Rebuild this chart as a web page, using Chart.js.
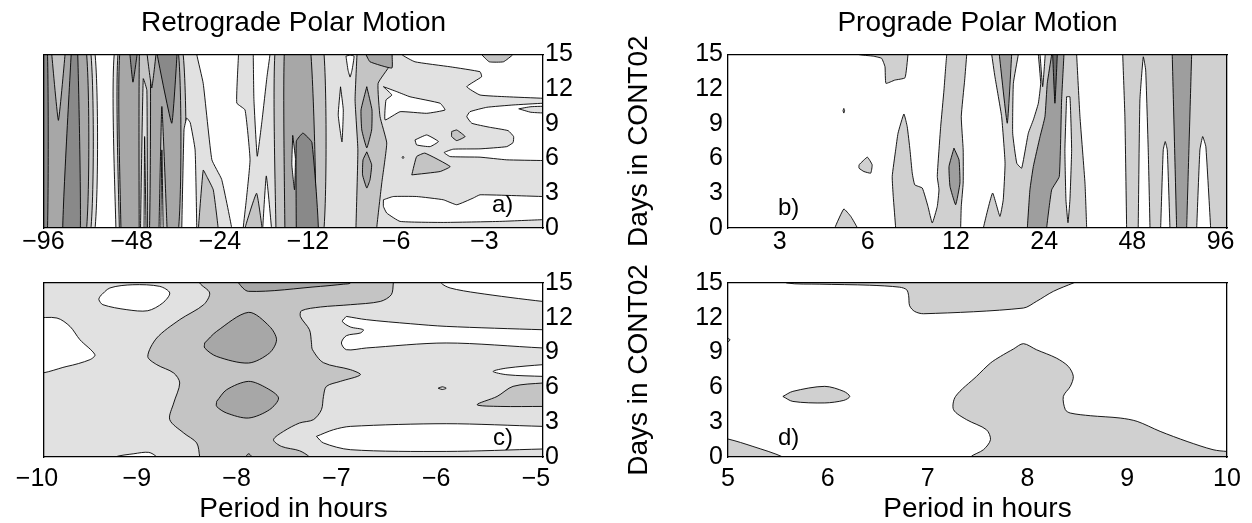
<!DOCTYPE html>
<html lang="en">
<head>
<meta charset="UTF-8">
<title>Retrograde / Prograde Polar Motion</title>
<script src="https://cdn.jsdelivr.net/npm/chart.js"></script>
<style>
  body { margin: 0; background: #fff; }
  #page { position: relative; width: 1252px; height: 523px; overflow: hidden; font-family: 'Liberation Sans', Arial, sans-serif; }
  #page canvas { position: absolute; }
  .tag { position: absolute; font-size: 24px; line-height: 24px; color: #000; }
</style>
</head>
<body>
<div id="page">
  <canvas id="chartA" width="600" height="262" style="left:0;top:0"></canvas>
  <canvas id="chartB" width="652" height="262" style="left:600px;top:0"></canvas>
  <canvas id="chartC" width="600" height="261" style="left:0;top:262px"></canvas>
  <canvas id="chartD" width="652" height="261" style="left:600px;top:262px"></canvas>
  <div class="tag" style="left:492px;top:192px">a)</div>
  <div class="tag" style="left:778px;top:195px">b)</div>
  <div class="tag" style="left:493px;top:425px">c)</div>
  <div class="tag" style="left:778px;top:425px">d)</div>
</div>
<script>
// tick labels
const retroTicks = [-96, -48, -24, -12, -6, -3];
const proTicks = [3, 6, 12, 24, 48, 96];
const retroHourTicks = [-10, -9, -8, -7, -6, -5];
const proHourTicks = [5, 6, 7, 8, 9, 10];
const dayTicks = [0, 3, 6, 9, 12, 15];

// contour polygons: [period in hours, day in CONT02]
// a) retrograde, long periods
const aLeftL1 = [[-110,-1],[-110,16],[-68.5,16],[-68.5,-1]];
const aLeftL2 = [[-110,-1],[-110,16],[-70.7,16],[-70.7,-1]];
const aLeftL3 = [[-110,-1],[-110,16],[-73.1,16],[-73.1,-1]];
const aLeftNotch = [[-95.0,16],[-95.0,15],[-90.2,9.3],[-85.6,15],[-85.6,16]];
const aLeftWedge = [[-81.2,16],[-77.7,16],[-76.1,-1],[-87.2,-1]];
const aLeftStrip = [[-110,-1],[-110,16],[-98.6,16],[-98.6,-1]];
const aMidL1 = [[-57.3,-1],[-57.3,16],[-30.4,16],[-30.4,15],[-28.9,12.5],[-27.0,5.9],[-25.0,4.2],[-23.1,0],[-23.1,-1]];
const aMidL2 = [[-55.8,-1],[-55.8,16],[-34.3,16],[-34.1,-1]];
const aMidL3 = [[-55.1,-1],[-55.1,16],[-35.5,16],[-35.5,-1]];
const aMidSpikeA = [[-51.4,16],[-51.4,15],[-50.2,12.6],[-48.6,15],[-48.6,16]];
const aMidStrip = [[-47.8,-1],[-47.6,16],[-43.9,16],[-44.2,-1]];
const aMidLensA = [[-47.3,-1],[-47.3,0],[-46.3,12.9],[-45.0,11.9],[-44.8,0],[-44.8,-1]];
const aMidLensAw = [[-46.0,-1],[-46.0,0],[-45.8,7.9],[-45.3,0],[-45.3,-1]];
const aMidSpikeB = [[-44.9,16],[-44.9,15],[-43.3,12.1],[-41.9,15],[-41.9,16]];
const aMidV = [[-41.5,16],[-41.5,15],[-37.0,9.05],[-35.5,15],[-35.5,16]];
const aMidSpikeC = [[-40.9,-1],[-40.9,0],[-40.0,10.5],[-38.4,0],[-38.4,-1]];
const aMidSpikeCw = [[-40.3,-1],[-40.3,0],[-40.0,6.75],[-39.6,0],[-39.6,-1]];
const aMidSpikeD = [[-34.2,-1],[-34.2,0],[-33.6,8.5],[-32.9,9.5],[-32.0,9.1],[-30.8,6.75],[-30.4,0],[-30.4,-1]];
const aMidSpikeE = [[-30.0,-1],[-30.0,0],[-28.9,5.0],[-28.1,4.45],[-26.7,3.3],[-25.7,0],[-25.7,-1]];
// a) retrograde, short periods
const aRightL1 = [[-21.9,16],[-21.9,15],[-22.2,10.8],[-20.8,10.2],[-20.0,5.9],[-20.6,2.4],[-21.1,0],[-21.1,-1],[-1.9,-1],[-1.9,16]];
const aRightTongue = [[-19.5,16],[-19.5,15],[-19.4,11.1],[-18.9,6.2],[-18.2,9.3],[-17.5,13.1],[-17.1,15],[-17.1,16]];
const aRightSpike = [[-20.8,-1],[-20.8,0],[-19.0,3.0],[-18.2,0],[-18.2,-1]];
const aRightNotch = [[-18.1,-1],[-18.1,0],[-17.6,4.5],[-16.9,0],[-16.9,-1]];
const aRightL2 = [[-16.3,-1],[-16.3,16],[-11.3,16],[-11.3,-1]];
const aRightL3 = [[-15.2,-1],[-15.2,16],[-12.5,16],[-12.0,-1]];
const aRightL4 = [[-13.9,-1],[-13.9,7.5],[-13.2,8.2],[-12.3,7.4],[-11.7,-1]];
const aRightLensW = [[-14.3,8.0],[-14.0,6.0],[-14.1,3.3],[-14.4,5.5]];
const aLens1 = [[-9.82,12.2],[-9.61,10.2],[-9.71,7.44],[-10.0,9.77]];
const aLens2 = [[-9.41,14.85],[-9.11,14.94],[-8.83,14.85],[-8.97,13.65],[-9.11,13.04],[-9.26,13.65]];
const aBandL2 = [[-8.63,16],[-8.63,15],[-8.76,11.06],[-8.57,6.75],[-8.7,0],[-8.7,-1],[-7.39,-1],[-7.39,0],[-7.10,3.91],[-6.83,7.35],[-7.20,9.62],[-7.31,12.5],[-6.65,14.08],[-6.56,15],[-6.56,16]];
const aBandLens1 = [[-7.99,12.21],[-7.67,10.2],[-7.69,8.47],[-7.99,6.92],[-8.31,8.47],[-8.36,10.2]];
const aBandLens2 = [[-7.99,6.58],[-7.69,5.46],[-7.79,4.16],[-7.99,3.45],[-8.26,4.59],[-8.23,5.89]];
const aBandWedge = [[-8.04,15.5],[-6.55,15.5],[-6.55,15],[-6.56,13.82],[-7.79,14.36],[-8.04,15]];
const aTopWhite = [[-6.07,16],[-6.07,15],[-5.47,14.36],[-4.15,13.93],[-3.28,13.5],[-3.24,13.07],[-3.64,12.21],[-3.28,11.49],[-2.66,11.34],[-2.0,11.21],[-1.9,11.21],[-1.9,16]];
const aTopBlob = [[-3.24,15.5],[-3.24,15],[-3.05,14.36],[-2.73,14.36],[-2.53,15],[-2.53,15.5]];
const aTongueW = [[-7.01,12.21],[-6.56,11.49],[-6.87,11.06],[-6.92,9.34],[-6.15,10.05],[-4.99,9.91],[-4.32,10.2],[-4.49,10.78],[-5.69,11.34],[-6.31,11.78]];
const aMidWhite = [[-1.9,10.78],[-2.0,10.78],[-2.53,10.63],[-3.11,10.43],[-3.55,10.05],[-3.64,9.62],[-3.50,9.05],[-3.05,8.71],[-2.63,8.41],[-2.52,7.9],[-2.53,7.38],[-2.66,7.03],[-3.28,6.84],[-4.05,6.81],[-4.35,6.52],[-4.15,6.17],[-3.28,6.12],[-2.66,5.89],[-2.0,5.83],[-1.9,5.83]];
const aMidLensR = [[-2.42,10.3],[-2.2,10.48],[-1.9,10.5],[-1.9,9.95],[-2.2,10.0]];
const aOvalW = [[-5.47,7.61],[-4.99,8.04],[-4.55,7.47],[-4.86,7.03],[-5.40,7.18]];
const aBlobL2 = [[-4.10,8.33],[-3.94,8.47],[-3.69,7.9],[-3.94,7.55],[-4.10,7.9]];
const aTriL2 = [[-5.61,4.59],[-5.40,6.17],[-5.06,6.47],[-4.15,5.31],[-4.49,4.88]];
const aBottomWhite = [[-7.01,2.44],[-6.49,2.72],[-5.40,2.72],[-4.38,2.44],[-3.94,2.01],[-3.46,2.59],[-3.28,2.87],[-2.0,2.72],[-1.9,2.72],[-1.9,0.72],[-2.0,0.72],[-2.81,0.57],[-4.38,0.48],[-6.15,0.57],[-6.83,1.29],[-7.01,1.86]];
const aDot = [[-6.05,6.1],[-6.01,6.2],[-5.97,6.1],[-6.01,6.0]];

// b) prograde
const bTopBlob = [[5.55,15.5],[5.57,15],[6.26,14.85],[6.69,14.66],[6.87,13.93],[6.92,12.5],[7.42,12.78],[8.04,12.98],[8.23,15],[8.25,15.5]];
const bDot = [[4.97,10.33],[5.0,10.14],[4.97,9.93],[4.94,10.14]];
const bBlob = [[5.6,5.46],[5.98,6.12],[6.21,5.46],[6.14,4.74],[5.82,4.88],[5.6,5.17]];
const bBottomSpike = [[4.63,-0.5],[4.63,0],[4.97,1.64],[5.25,1.0],[5.53,0],[5.53,-0.5]];
const bSpikeBand = [[7.47,-0.5],[7.47,0],[7.33,2.72],[7.27,4.45],[7.47,6.75],[7.61,8.19],[7.97,9.85],[8.18,8.76],[8.36,6.75],[8.51,4.74],[8.68,3.73],[9.21,3.45],[9.63,1.86],[9.96,0.43],[10.36,1.86],[10.5,3.3],[10.36,4.45],[10.5,6.75],[10.64,8.76],[10.92,11.92],[11.07,13.93],[11.16,15],[11.2,15.5],[13.1,15.5],[13.06,15],[12.85,12.78],[12.51,9.62],[12.7,6.75],[12.7,3.88],[12.51,1.86],[12.45,0],[12.45,-0.5]];
const bBandLens = [[11.81,6.9],[12.29,5.89],[12.38,3.88],[11.97,2.01],[11.45,3.59],[11.36,5.31]];
const bBand24 = [[14.88,-0.5],[14.88,0],[16.0,3.02],[16.95,1.0],[17.4,2.44],[17.65,5.6],[17.18,9.62],[16.3,13.07],[15.89,15],[15.85,15.5],[31.0,15.5],[30.98,15],[31.8,9.62],[33.08,3.88],[33.52,0],[33.52,-0.5]];
const bV24 = [[16.87,15.5],[16.87,15],[17.96,9.05],[18.59,15],[18.59,15.5]];
const bTongue24 = [[19.59,15.5],[19.59,15],[18.84,12.5],[18.74,8.19],[19.35,5.6],[20.11,5.17],[21.19,8.19],[22.04,9.34],[22.93,10.78],[23.35,12.5],[22.93,15],[22.93,15.5]];
const bThin24 = [[23.24,15.5],[23.24,15],[23.72,12.21],[24.2,15],[24.2,15.5]];
const bDark24 = [[25.46,15.5],[25.46,15],[24.59,12.5],[24.15,9.62],[23.24,7.9],[22.04,5.31],[21.46,3.3],[21.03,0],[21.03,-0.5],[24.47,-0.5],[24.47,0],[25.46,3.3],[27.03,4.45],[27.53,11.06],[28.04,15],[28.04,15.5]];
const bThinDark = [[25.66,15.5],[25.66,15],[26.12,10.78],[26.61,15],[26.61,15.5]];
const bLens30 = [[28.63,11.34],[29.39,11.34],[29.78,6.75],[29.39,2.44],[28.94,0.46],[28.48,2.44],[28.25,6.75]];
const bRightL1 = [[44.5,15.5],[44.5,15],[45.27,9.62],[45.89,0],[45.89,-0.5],[110,-0.5],[110,15.5]];
const bRightW1 = [[50.26,-0.5],[50.26,0],[50.94,11.06],[52.31,14.79],[53.3,13.65],[54.38,6.75],[55.14,0],[55.14,-0.5]];
const bRightW2 = [[59.96,-0.5],[59.96,0],[61.19,6.75],[62.16,7.47],[63.16,6.75],[64.5,0],[64.5,-0.5]];
const bRightDark = [[65.67,15.5],[65.67,15],[67.98,0],[67.98,-0.5],[73.55,-0.5],[73.55,0],[76.5,15],[76.5,15.5]];
const bRightW3 = [[79.6,-0.5],[79.6,0],[81.63,6.75],[83.42,7.9],[85.53,7.03],[88.81,0],[88.81,-0.5]];

// c) retrograde 5-10 h
const cBack = [[-10.5,-1],[-10.5,16],[-4.5,16],[-4.5,-1]];
const cWhiteTL = [[-9.44,13.84],[-9.34,14.57],[-9.11,14.85],[-8.84,14.71],[-8.74,14.14],[-8.81,13.28],[-8.96,12.61],[-9.17,12.70],[-9.41,13.13],[-9.45,13.56]];
const cWhiteL = [[-10.1,11.98],[-9.87,11.98],[-9.74,11.26],[-9.64,10.11],[-9.49,8.82],[-9.54,8.39],[-9.77,7.81],[-10.1,7.38]];
const cWhiteB = [[-9.29,-0.3],[-9.29,0],[-9.1,0.28],[-8.95,0.4],[-8.87,0],[-8.87,-0.3]];
const cMid = [[-8.44,15.5],[-8.44,15],[-8.34,14.14],[-8.40,13.13],[-8.64,11.84],[-8.87,10.26],[-8.96,8.67],[-8.87,7.96],[-8.70,7.24],[-8.64,6.38],[-8.70,4.66],[-8.74,3.22],[-8.60,2.07],[-8.47,1.21],[-8.44,0],[-8.44,-0.3],[-7.34,-0.3],[-7.34,0],[-7.44,0.54],[-7.62,0.91],[-7.70,1.49],[-7.60,2.21],[-7.44,2.93],[-7.30,3.22],[-7.22,4.08],[-7.20,5.22],[-7.17,6.09],[-7.03,6.52],[-6.83,7.09],[-6.93,7.53],[-7.20,8.13],[-7.31,9.25],[-7.32,9.85],[-7.34,10.97],[-7.43,12.09],[-7.42,12.61],[-7.23,12.93],[-6.93,13.13],[-6.63,13.41],[-6.52,13.99],[-6.50,15],[-6.50,15.5]];
const cLensU = [[-8.39,9.83],[-8.27,10.83],[-7.95,12.47],[-7.74,11.26],[-7.67,10.11],[-7.74,8.97],[-7.95,8.10],[-8.27,8.67],[-8.39,9.40]];
const cLensL = [[-8.27,4.79],[-8.17,5.80],[-7.95,6.52],[-7.77,5.95],[-7.65,5.09],[-7.74,4.08],[-7.95,3.36],[-8.17,3.79],[-8.27,4.36]];
const cTopStrip = [[-8.06,15.5],[-8.05,15],[-7.95,14.28],[-7.23,14.71],[-7.0,14.9],[-6.93,15],[-6.93,15.5]];
const cTinyTri = [[-8.0,-0.3],[-7.95,0.28],[-7.9,-0.3]];
const cWhiteTR = [[-6.02,15.5],[-6.02,15],[-5.93,14.57],[-5.66,14.14],[-5.0,13.41],[-4.9,13.41],[-4.9,15.5]];
const cWhiteMid = [[-6.97,12.12],[-6.77,11.84],[-6.33,11.49],[-5.97,11.26],[-5.0,10.97],[-4.9,10.97],[-4.9,9.40],[-5.0,9.40],[-5.97,9.83],[-6.77,9.40],[-6.97,9.25],[-7.02,9.83],[-6.97,10.46],[-6.83,10.69],[-6.80,10.97],[-6.93,11.21],[-7.01,11.69]];
const cWhiteSliver = [[-4.9,7.96],[-5.0,7.96],[-5.36,7.67],[-5.50,7.38],[-5.36,7.09],[-5.0,6.95],[-4.9,6.95]];
const cWedgeL2 = [[-4.9,6.38],[-5.0,6.38],[-5.30,6.09],[-5.46,5.22],[-5.66,4.51],[-5.43,4.36],[-5.0,4.36],[-4.9,4.36]];
const cOval = [[-6.05,5.93],[-6.01,6.05],[-5.97,5.93],[-6.01,5.82]];
const cWhiteBot = [[-7.27,1.78],[-7.10,2.35],[-6.93,2.64],[-5.97,2.87],[-5.0,2.64],[-4.9,2.64],[-4.9,0.69],[-5.0,0.69],[-5.97,0.48],[-6.93,0.63],[-7.20,1.21]];

// d) prograde 5-10 h
const dTop = [[5.5,15.5],[5.59,15],[5.92,14.9],[6.42,14.81],[6.72,14.64],[6.79,14.42],[6.81,13.91],[6.82,13.04],[6.87,12.55],[6.96,12.35],[7.96,12.84],[8.09,13.41],[8.26,14.28],[8.46,15],[8.6,15.5]];
const dBlob = [[5.55,5.22],[5.65,5.66],[5.97,6.09],[6.16,5.66],[6.22,5.22],[6.16,4.88],[5.97,4.66],[5.65,4.79]];
const dCorner = [[4.9,1.6],[5.0,1.55],[5.25,0.91],[5.55,0],[5.6,-0.5],[4.9,-0.5]];
const dTick = [[4.98,10.35],[5.02,10.1],[4.98,9.85]];
const dBig = [[7.43,-0.5],[7.43,0],[7.56,0.63],[7.63,1.49],[7.59,2.35],[7.39,3.22],[7.26,4.08],[7.28,5.22],[7.49,6.95],[7.63,8.10],[7.73,8.67],[7.86,9.31],[7.96,9.77],[8.09,9.25],[8.29,8.53],[8.41,7.81],[8.46,6.95],[8.43,6.09],[8.36,5.22],[8.38,4.08],[8.43,3.79],[8.63,3.56],[8.93,3.36],[9.10,3.07],[9.33,2.21],[9.60,1.34],[9.86,0.63],[10.0,0.48],[10.1,0.48],[10.1,-0.5]];

const greysAC = ['#ffffff', '#e1e1e1', '#c4c4c4', '#a7a7a7', '#898989'];
const greysBD = ['#ffffff', '#d0d0d0', '#9e9e9e', '#6c6c6c'];

// painter order, bottom first: [polygon, grey level]
const layersA = [
  [aLeftL1, 1], [aLeftL2, 2], [aLeftL3, 3], [aLeftNotch, 2], [aLeftWedge, 4], [aLeftStrip, 4],
  [aMidL1, 1], [aMidL2, 2], [aMidL3, 3], [aMidSpikeA, 4], [aMidStrip, 2], [aMidLensA, 1], [aMidLensAw, 0],
  [aMidSpikeB, 2], [aMidV, 4], [aMidSpikeC, 2], [aMidSpikeCw, 0], [aMidSpikeD, 0], [aMidSpikeE, 2],
  [aRightL1, 1], [aRightTongue, 0], [aRightSpike, 2], [aRightNotch, 0], [aRightL2, 2], [aRightL3, 3], [aRightL4, 4],
  [aRightLensW, 0], [aLens1, 0], [aLens2, 0], [aBandL2, 2], [aBandLens1, 3], [aBandLens2, 3],
  [aBandWedge, 3], [aTopWhite, 0], [aTopBlob, 2], [aTongueW, 0], [aMidWhite, 0], [aMidLensR, 1],
  [aOvalW, 0], [aBlobL2, 2], [aTriL2, 2], [aBottomWhite, 0], [aDot, 1]
];
const layersB = [
  [bTopBlob, 1], [bDot, 1], [bBlob, 1], [bBottomSpike, 1], [bSpikeBand, 1], [bBandLens, 2],
  [bBand24, 1], [bV24, 2], [bTongue24, 0], [bThin24, 0], [bDark24, 2], [bThinDark, 3], [bLens30, 0],
  [bRightL1, 1], [bRightW1, 0], [bRightW2, 0], [bRightDark, 2], [bRightW3, 0]
];
const layersC = [
  [cBack, 1], [cWhiteTL, 0], [cWhiteL, 0], [cWhiteB, 0], [cMid, 2], [cLensU, 3], [cLensL, 3],
  [cTopStrip, 3], [cTinyTri, 3], [cWhiteTR, 0], [cWhiteMid, 0], [cWhiteSliver, 0], [cWedgeL2, 2],
  [cOval, 1], [cWhiteBot, 0]
];
const layersD = [[dTop, 1], [dBlob, 1], [dCorner, 1], [dTick, 1], [dBig, 1]];

Chart.defaults.font.family = "'Liberation Sans', Arial, sans-serif";
Chart.defaults.color = '#000';

const TICK_FONT = { size: 25 };
const LABEL_FONT = { size: 28 };
const noGrid = { display: false, drawTicks: false };
// z: 1 puts the frame above the filled contours
const blackBorder = { display: true, color: '#000', width: 1.3, z: 1 };

function buildSets(layers, greys, absX, tension) {
  const sets = layers.map(([pts, lvl]) => {
    const data = pts.map(([p, d]) => ({ x: absX ? Math.abs(p) : p, y: d }));
    data.push(data[0]);
    return {
      data: data,
      xAxisID: 'x',
      yAxisID: 'y',
      fill: 'shape',
      backgroundColor: greys[lvl],
      borderColor: '#000',
      borderWidth: 0.9,
      pointRadius: 0,
      tension: tension
    };
  });
  // first dataset is drawn last
  return sets.reverse();
}

function frame(pos) {
  return {
    position: pos,
    grid: noGrid,
    ticks: { display: false },
    border: blackBorder,
    afterFit: s => { if (s.isHorizontal()) s.height = 0; else s.width = 0; }
  };
}

function minusLabel(v) {
  return String(v).replace('-', '\u2212');
}

function dayAxis(pos, width, withTitle) {
  return {
    type: 'linear',
    position: pos,
    min: 0,
    max: 15,
    afterBuildTicks: s => { s.ticks = dayTicks.map(v => ({ value: v })); },
    ticks: { font: TICK_FONT, color: '#000', padding: pos === 'left' ? 5 : 2 },
    grid: noGrid,
    border: blackBorder,
    title: { display: withTitle, text: 'Days in CONT02', font: LABEL_FONT, color: '#000', padding: { top: 22, bottom: 0 } },
    afterFit: s => { s.width = width; }
  };
}

function periodAxis(type, min, max, tickList, reverse, height, withTitle, pad, offset) {
  return {
    type: type,
    position: 'bottom',
    min: min,
    max: max,
    reverse: reverse,
    afterBuildTicks: s => { s.ticks = tickList.map(v => ({ value: type === 'logarithmic' ? Math.abs(v) : v })); },
    ticks: {
      callback: (v, i) => minusLabel(tickList[i]),
      font: TICK_FONT, color: '#000', padding: pad, maxRotation: 0, autoSkip: false, labelOffset: offset
    },
    grid: noGrid,
    border: blackBorder,
    title: { display: withTitle, text: 'Period in hours', font: LABEL_FONT, color: '#000', padding: { top: 0, bottom: -3 } },
    afterFit: s => { s.height = height; }
  };
}

function makePanel(id, layers, greys, absX, tension, title, padding, xAxis, yAxis) {
  new Chart(document.getElementById(id), {
    type: 'line',
    data: { datasets: buildSets(layers, greys, absX, tension) },
    options: {
      responsive: false,
      animation: false,
      events: [],
      devicePixelRatio: 1,
      layout: { padding: padding },
      plugins: {
        legend: { display: false },
        tooltip: { enabled: false },
        title: {
          display: !!title,
          text: title || '',
          fullSize: false,
          font: { size: 28, weight: 'normal' },
          color: '#000',
          padding: { top: 6.5, bottom: 14.3 }
        }
      },
      scales: {
        x: xAxis,
        y: yAxis,
        x2: frame('top'),
        y2: frame(yAxis.position === 'left' ? 'right' : 'left')
      }
    }
  });
}

makePanel('chartA', layersA, greysAC, true, 0.12, 'Retrograde Polar Motion',
  { left: 44, right: 0, top: 0, bottom: 0 },
  periodAxis('logarithmic', 2, 101, retroTicks, true, 34, false, -1, -7),
  dayAxis('right', 57, false));

makePanel('chartB', layersB, greysBD, false, 0.12, 'Prograde Polar Motion',
  { left: 0, right: 25, top: 0, bottom: 0 },
  periodAxis('logarithmic', 2, 101, proTicks, false, 34, false, -1, 0),
  dayAxis('left', 128, true));

makePanel('chartC', layersC, greysAC, false, 0.3, null,
  { left: 44, right: 0, top: 21, bottom: 0 },
  periodAxis('linear', -10, -5, retroHourTicks, false, 66, true, 7, -7),
  dayAxis('right', 57, false));

makePanel('chartD', layersD, greysBD, false, 0.3, null,
  { left: 0, right: 25, top: 21, bottom: 0 },
  periodAxis('linear', 5, 10, proHourTicks, false, 66, true, 7, 0),
  dayAxis('left', 128, true));
</script>
</body>
</html>
